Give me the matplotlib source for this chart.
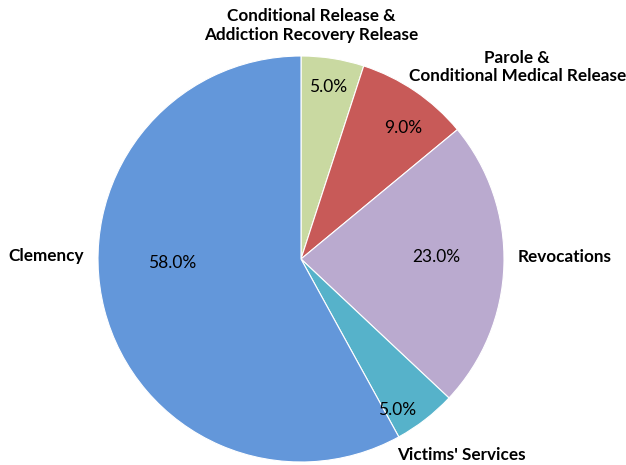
import matplotlib
matplotlib.use('Agg')
import matplotlib.pyplot as plt

labels = ["Conditional Release &\nAddiction Recovery Release",
          "Parole &\nConditional Medical Release",
          "Revocations",
          "Victims' Services",
          "Clemency"]
shares = [5.0, 9.0, 23.0, 5.0, 58.0]
colors = ['#C9D9A1', '#C85A58', '#BAAACF', '#56B2CA', '#6397DA']

# text placement (data coords, pie radius = 1)
label_pos = [(0.05, 1.15), (1.065, 0.945), (1.30, 0.01), (0.79, -0.965), (-1.256, 0.015)]
pct_pos = [(0.133, 0.847), (0.502, 0.645), (0.665, 0.01), (0.473, -0.744), (-0.635, -0.02)]

plt.rcParams['font.family'] = ['Lato', 'DejaVu Sans']

fig = plt.figure(figsize=(6.26, 4.65), dpi=100)
cx, cy, r = 301, 259, 203
ax = fig.add_axes([(cx - r) / 626, (465 - cy - r) / 465, 2 * r / 626, 2 * r / 465])

ax.pie(shares, colors=colors, startangle=90, counterclock=False,
       wedgeprops={'linewidth': 0.8, 'edgecolor': 'white'})
ax.set_xlim(-1, 1)
ax.set_ylim(-1, 1)
ax.set_aspect('equal')
ax.axis('off')

for lab, val, lp, pp in zip(labels, shares, label_pos, pct_pos):
    ax.text(lp[0], lp[1], lab, ha='center', va='center', fontsize=12.3,
            fontweight='bold', color='black', linespacing=1.2, clip_on=False)
    ax.text(pp[0], pp[1], '%.1f%%' % val, ha='center', va='center',
            fontsize=12.5, color='black')

fig.savefig('out.png', dpi=100)
